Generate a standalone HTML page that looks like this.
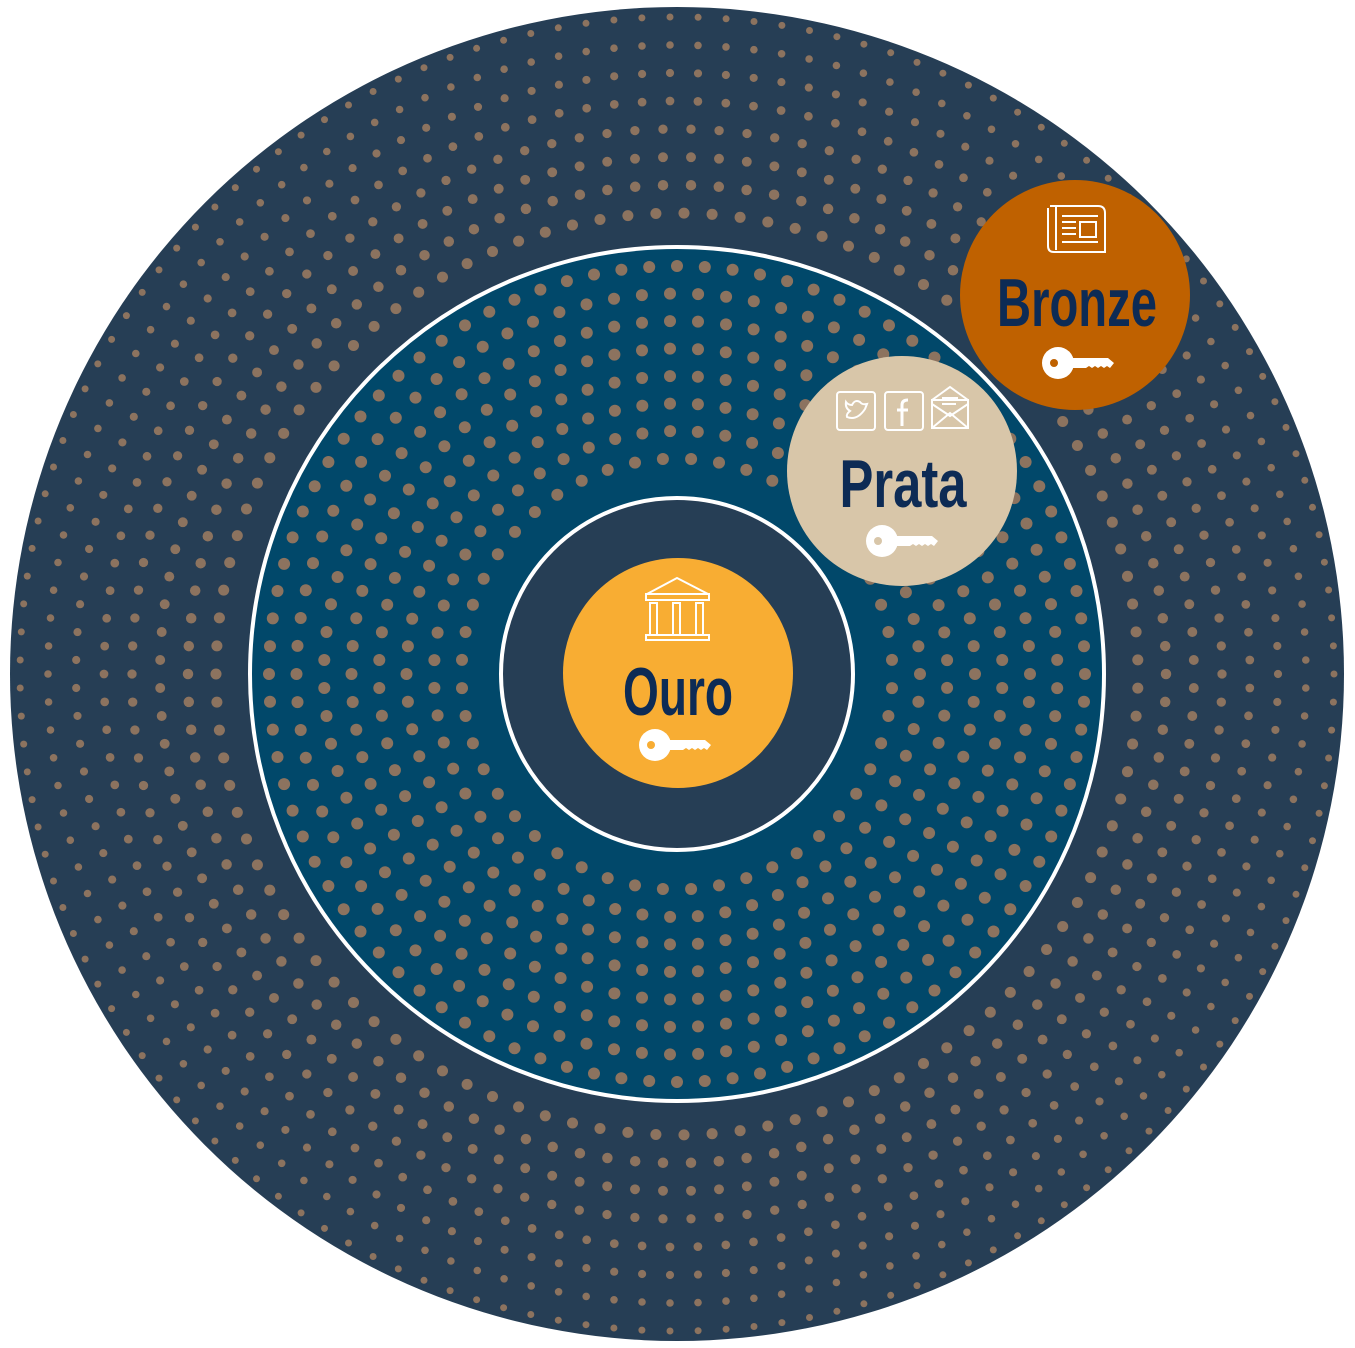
<!DOCTYPE html>
<html><head><meta charset="utf-8"><style>
html,body{margin:0;padding:0;background:#fff;}
svg{display:block}
.t{font-family:"Liberation Sans Narrow","Liberation Sans",sans-serif;font-weight:bold;fill:#0d2b55;text-anchor:middle}
</style></head><body>
<svg id="s" width="1355" height="1348" viewBox="0 0 1355 1348" xmlns="http://www.w3.org/2000/svg">
<defs>
<g id="key">
<circle cx="0" cy="0" r="16" fill="#fff"/>
<path d="M10,-5 H50 L56,0 L52,5 L49,3 L46,5 L43,3 L40,5 L37,3 L34,5 L31,3 L28,5 H10 Z" fill="#fff"/>
</g>
</defs>
<circle cx="677" cy="674" r="667" fill="#263e55"/>
<circle cx="677" cy="674" r="427" fill="#01486a" stroke="#fff" stroke-width="4"/>
<g id="dots" fill="#8c735f"></g>
<circle cx="677" cy="674" r="176" fill="#263e55" stroke="#fff" stroke-width="4"/>

<!-- Ouro -->
<circle cx="678" cy="673" r="115" fill="#f8ad33"/>
<g fill="none" stroke="#fff" stroke-width="2">
<path d="M647,594 L677,578 L708,594 Z"/>
<rect x="646" y="594" width="63" height="6"/>
<rect x="650" y="603" width="7" height="32"/><rect x="673" y="603" width="7" height="32"/><rect x="696" y="603" width="7" height="32"/>
<rect x="646" y="635" width="63" height="5"/>
</g>
<text class="t" x="678" y="715" font-size="68" textLength="110" lengthAdjust="spacingAndGlyphs">Ouro</text>
<use href="#key" x="655" y="745"/>
<circle cx="651" cy="745" r="4" fill="#f8ad33"/>

<!-- Prata -->
<circle cx="902" cy="471" r="115" fill="#d8c6a9"/>
<g fill="none" stroke="#fff" stroke-width="2">
<rect x="837" y="392" width="38" height="38" rx="3"/>
<path d="M847,417 q10,4 18,-8 l2,-5 q-5,1 -7,-2 q-5,-3 -8,3 q-4,0 -6,-3 q-1,6 4,9 q-4,3 -3,6z"/>
<rect x="885" y="392" width="38" height="38" rx="3"/>
<path d="M902,426 V405 q0,-5 6,-5 M897,410 H908" stroke-width="3"/>
<rect x="932" y="400" width="36" height="28"/>
<path d="M932,400 L950,387 L968,400 M932,428 L950,413 L968,428 M932,404 L950,416 L968,404 M942,398 H958 M942,404 H956"/>
</g>
<text class="t" x="903" y="507" font-size="68" textLength="127" lengthAdjust="spacingAndGlyphs">Prata</text>
<use href="#key" x="882" y="541"/>
<circle cx="878" cy="541" r="4" fill="#d8c6a9"/>

<!-- Bronze -->
<circle cx="1075" cy="295" r="115" fill="#bf6100"/>
<g fill="none" stroke="#fff" stroke-width="2">
<path d="M1050,206 H1098 q7,0 7,7 V252 H1054 q-6,0 -6,-6 V208"/>
<path d="M1056,206 V250"/>
<rect x="1080" y="222" width="16" height="15"/>
<path d="M1062,216 H1098 M1062,222 H1076 M1062,228 H1076 M1062,234 H1076 M1062,242 H1098"/>
</g>
<text class="t" x="1077" y="326" font-size="68" textLength="160" lengthAdjust="spacingAndGlyphs">Bronze</text>
<use href="#key" x="1058" y="363"/>
<circle cx="1054" cy="363" r="4" fill="#bf6100"/>
</svg>
<script>
(function(){
var g=document.getElementById('dots'),cx=677,cy=674,h='';
function ring(r,dr,off){
 var n=Math.round(2*Math.PI*r/28);
 for(var i=0;i<n;i++){var a=(i+off)/n*2*Math.PI;
  h+='<circle cx="'+(cx+r*Math.cos(a)).toFixed(1)+'" cy="'+(cy+r*Math.sin(a)).toFixed(1)+'" r="'+dr.toFixed(2)+'"/>';}
}
var k=0;
for(var r=657;r>=435;r-=28){var dr=3.5+(657-r)/222*2.3;ring(r,dr,(k%2)*0.5);k++;}
for(var r=408;r>=195;r-=27.5){ring(r,6,(k%2)*0.5);k++;}
g.innerHTML=h;
})();
</script>
</body></html>
